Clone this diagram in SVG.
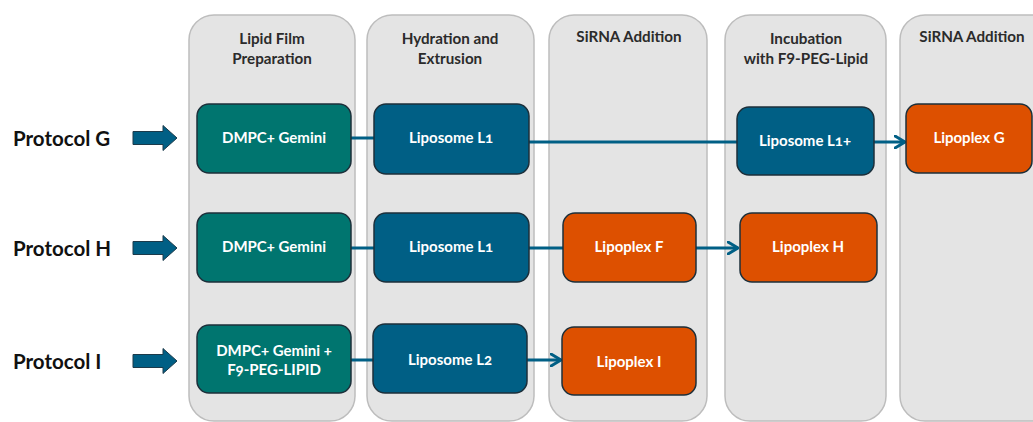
<svg xmlns="http://www.w3.org/2000/svg" width="1033" height="422" viewBox="0 0 1033 422">
  <style>
    .lane { fill: #e4e4e4; stroke: #bdbdbd; stroke-width: 1.5; }
    .hdr { font-family: Lato, "Liberation Sans", sans-serif; font-weight: bold; font-size: 15.2px; fill: #2b2b2b; text-anchor: middle; }
    .proto { font-family: Lato, "Liberation Sans", sans-serif; font-weight: bold; font-size: 20.5px; fill: #111; }
    .node { stroke: #1c2f3a; stroke-width: 1.5; }
    .teal { fill: #00756f; }
    .blue { fill: #005f85; }
    .orange { fill: #dd5000; }
    .lbl { font-family: Lato, "Liberation Sans", sans-serif; font-weight: bold; font-size: 15px; fill: #ffffff; text-anchor: middle; font-variant-numeric: oldstyle-nums; }
    .conn { stroke: #005f85; stroke-width: 3; fill: none; }
    .block { fill: #005f85; stroke: #1c3a4a; stroke-width: 1; }
  </style>
  <defs>
    <marker id="chev" viewBox="0 0 12 14" refX="11" refY="7" markerWidth="12" markerHeight="14" markerUnits="userSpaceOnUse" orient="auto">
      <path d="M1,1 L11,7 L1,13" fill="none" stroke="#005f85" stroke-width="3" stroke-linecap="round" stroke-linejoin="round"/>
    </marker>
    <path id="blk" d="M0,-6.5 L30,-6.5 L30,-12.5 L44,0 L30,12.5 L30,6.5 L0,6.5 Z"/>
  </defs>

  <g id="lanes">
    <g id="lane-lipid-film">
      <rect class="lane" x="189" y="15" width="166" height="406" rx="25"/>
      <text class="hdr" x="272" y="44">Lipid Film</text>
      <text class="hdr" x="272" y="64">Preparation</text>
    </g>
    <g id="lane-hydration">
      <rect class="lane" x="367" y="15" width="167" height="406" rx="25"/>
      <text class="hdr" x="450" y="44">Hydration and</text>
      <text class="hdr" x="450" y="64">Extrusion</text>
    </g>
    <g id="lane-sirna-1">
      <rect class="lane" x="549" y="15" width="158" height="406" rx="25"/>
      <text class="hdr" x="629" y="42">SiRNA Addition</text>
    </g>
    <g id="lane-incubation">
      <rect class="lane" x="725" y="15" width="161" height="406" rx="25"/>
      <text class="hdr" x="806" y="44">Incubation</text>
      <text class="hdr" x="806" y="64">with F9-PEG-Lipid</text>
    </g>
    <g id="lane-sirna-2">
      <rect class="lane" x="900" y="15" width="170" height="406" rx="25"/>
      <text class="hdr" x="972" y="42">SiRNA Addition</text>
    </g>
  </g>

  <g id="protocols">
    <g id="protocol-g">
      <text class="proto" x="13" y="146">Protocol G</text>
      <use href="#blk" class="block" x="133" y="138"/>
    </g>
    <g id="protocol-h">
      <text class="proto" x="13" y="256">Protocol H</text>
      <use href="#blk" class="block" x="133" y="248"/>
    </g>
    <g id="protocol-i">
      <text class="proto" x="13" y="369">Protocol I</text>
      <use href="#blk" class="block" x="133" y="361"/>
    </g>
  </g>

  <g id="connectors">
    <line class="conn" x1="351" y1="138" x2="374" y2="138"/>
    <line class="conn" x1="529" y1="142" x2="905" y2="142" marker-end="url(#chev)"/>
    <line class="conn" x1="351" y1="248" x2="374" y2="248"/>
    <line class="conn" x1="529" y1="248" x2="563" y2="248"/>
    <line class="conn" x1="695" y1="248" x2="738" y2="248" marker-end="url(#chev)"/>
    <line class="conn" x1="351" y1="360" x2="373" y2="360"/>
    <line class="conn" x1="527" y1="360" x2="561" y2="360" marker-end="url(#chev)"/>
  </g>

  <g id="nodes">
    <g id="g-dmpc">
      <rect class="node teal" x="197" y="104" width="154" height="69" rx="12"/>
      <text class="lbl" x="274" y="143">DMPC+ Gemini</text>
    </g>
    <g id="g-liposome-l1">
      <rect class="node blue" x="374" y="104" width="155" height="70" rx="12"/>
      <text class="lbl" x="451" y="143">Liposome L1</text>
    </g>
    <g id="g-liposome-l1plus">
      <rect class="node blue" x="737" y="107" width="137" height="68" rx="12"/>
      <text class="lbl" x="805" y="146">Liposome L1+</text>
    </g>
    <g id="g-lipoplex-g">
      <rect class="node orange" x="906" y="104" width="126" height="69" rx="12"/>
      <text class="lbl" x="969" y="143">Lipoplex G</text>
    </g>

    <g id="h-dmpc">
      <rect class="node teal" x="197" y="213" width="154" height="69" rx="12"/>
      <text class="lbl" x="274" y="252">DMPC+ Gemini</text>
    </g>
    <g id="h-liposome-l1">
      <rect class="node blue" x="374" y="213" width="155" height="69" rx="12"/>
      <text class="lbl" x="451" y="252">Liposome L1</text>
    </g>
    <g id="h-lipoplex-f">
      <rect class="node orange" x="563" y="213" width="133" height="69" rx="12"/>
      <text class="lbl" x="629" y="252">Lipoplex F</text>
    </g>
    <g id="h-lipoplex-h">
      <rect class="node orange" x="740" y="213" width="137" height="69" rx="12"/>
      <text class="lbl" x="808" y="252">Lipoplex H</text>
    </g>

    <g id="i-dmpc-peg">
      <rect class="node teal" x="197" y="325" width="154" height="68" rx="12"/>
      <text class="lbl" x="274" y="356">DMPC+ Gemini +</text>
      <text class="lbl" x="274" y="375">F9-PEG-LIPID</text>
    </g>
    <g id="i-liposome-l2">
      <rect class="node blue" x="373" y="324" width="154" height="69" rx="12"/>
      <text class="lbl" x="450" y="365">Liposome L2</text>
    </g>
    <g id="i-lipoplex-i">
      <rect class="node orange" x="562" y="327" width="134" height="68" rx="12"/>
      <text class="lbl" x="629" y="367">Lipoplex I</text>
    </g>
  </g>
</svg>
